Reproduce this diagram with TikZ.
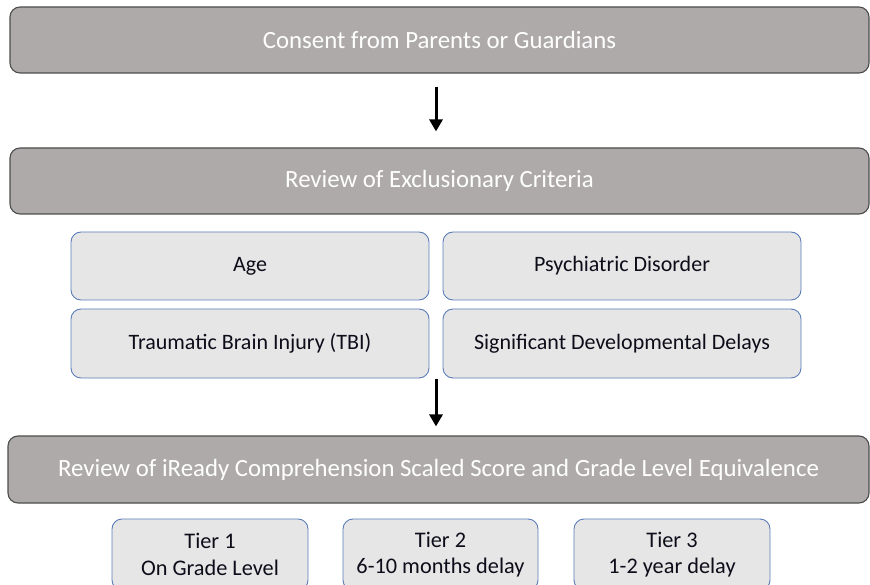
\documentclass[tikz,border=0pt]{standalone}
\usepackage{fontspec}
\setmainfont{Carlito}
\usetikzlibrary{arrows.meta,calc}
\definecolor{stagefill}{HTML}{AEAAAA}
\definecolor{stageline}{HTML}{4D4D4D}
\definecolor{itemfill}{HTML}{E7E6E6}
\definecolor{itemline}{HTML}{5B7DB8}
\definecolor{itemtext}{HTML}{0D0D1A}
\tikzset{
  stage/.style={draw=stageline, line width=1.1pt, fill=stagefill, rounded corners=10pt,
    text=white, font=\fontsize{24.8}{28}\selectfont, inner sep=0pt, minimum height=66pt},
  item/.style={draw=itemline, line width=0.9pt, fill=itemfill, rounded corners=10pt,
    text=itemtext, font=\fontsize{22}{26}\selectfont, inner sep=0pt, minimum width=358pt, minimum height=68pt},
  tier/.style={draw=itemline, line width=0.9pt, fill=itemfill, rounded corners=10pt,
    text=itemtext, font=\fontsize{22.3}{26.5}\selectfont, align=center, inner sep=0pt,
    minimum width=196pt, minimum height=71pt},
  flow/.style={line width=3pt, -{Triangle[length=12pt,width=13pt]}}
}
\begin{document}
\begin{tikzpicture}[x=1pt,y=1pt]
\useasboundingbox (0,0) rectangle (870,-585);
\begin{scope}
\clip (0,0) rectangle (870,-585);
% main stages
\node[stage, minimum width=859pt] (consent) at (439.5,-40) {Consent from Parents or Guardians};
\node[stage, minimum width=859pt] (review) at (439.5,-181) {Review of Exclusionary Criteria};
\node[stage, minimum width=861pt, minimum height=67pt] (iready) at (438.5,-469.5)
  {Review of iReady Comprehension Scaled Score and Grade Level Equivalence};
% exclusionary criteria
\node[item] (age) at (250,-266) {Age};
\node[item] (psych) at (622,-266) {Psychiatric Disorder};
\node[item, minimum height=69pt] (tbi) at (250,-343.5) {Traumatic Brain Injury (TBI)};
\node[item, minimum height=69pt] (delay) at (622,-343.5) {Significant Developmental Delays};
% tiers
\node[tier] (t1) at (210,-554.5) {Tier 1\\On Grade Level};
\node[tier, minimum width=195pt] (t2) at (440.5,-554.5) {Tier 2\\6-10 months delay};
\node[tier] (t3) at (672,-554.5) {Tier 3\\1-2 year delay};
% arrows
\draw[flow, shorten <=13pt, shorten >=16pt] ([xshift=-3.5pt]consent.south) -- ([xshift=-3.5pt]review.north);
\coordinate (gap) at ($(tbi.south east)!0.5!(delay.south west)$);
\draw[flow, shorten <=1pt, shorten >=9pt] (gap) -- (gap |- iready.north);
\end{scope}
\end{tikzpicture}
\end{document}
